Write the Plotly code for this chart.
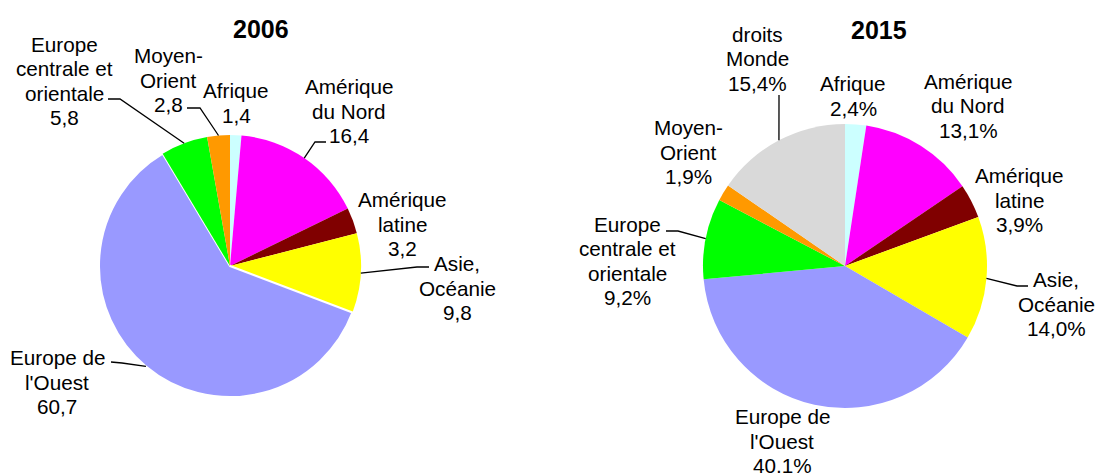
import math
import plotly.graph_objects as go

W, H = 1097, 473

# ---------------- data ----------------
regions_2006 = ["Afrique", "Amérique du Nord", "Amérique latine", "Asie, Océanie",
                "Europe de l'Ouest", "Europe centrale et orientale", "Moyen-Orient"]
values_2006 = [1.4, 16.4, 3.2, 9.8, 60.7, 5.8, 2.8]

regions_2015 = ["Afrique", "Amérique du Nord", "Amérique latine", "Asie, Océanie",
                "Europe de l'Ouest", "Europe centrale et orientale", "Moyen-Orient",
                "droits Monde"]
values_2015 = [2.4, 13.1, 3.9, 14.0, 40.1, 9.2, 1.9, 15.4]

titles = ["2006", "2015"]

# display names (line-broken)
display_names = {
    "Afrique": ["Afrique"],
    "Amérique du Nord": ["Amérique", "du Nord"],
    "Amérique latine": ["Amérique", "latine"],
    "Asie, Océanie": ["Asie,", "Océanie"],
    "Europe de l'Ouest": ["Europe de", "l'Ouest"],
    "Europe centrale et orientale": ["Europe", "centrale et", "orientale"],
    "Moyen-Orient": ["Moyen-", "Orient"],
    "droits Monde": ["droits", "Monde"],
}

colors = {
    "Afrique": "#CCFFFF",
    "Amérique du Nord": "#FF00FF",
    "Amérique latine": "#800000",
    "Asie, Océanie": "#FFFF00",
    "Europe de l'Ouest": "#9999FF",
    "Europe centrale et orientale": "#00FF00",
    "Moyen-Orient": "#FF9900",
    "droits Monde": "#D9D9D9",
}

# ---------------- layout (pixels) ----------------
pies = [
    dict(names=regions_2006, values=values_2006, cx=230, cy=266, r=131, suffix="",
         title_pos=(261, 29),
         label_pos={
             "Europe centrale et orientale": (64, 81),
             "Moyen-Orient": (168, 80),
             "Afrique": (236, 103),
             "Amérique du Nord": (349, 111),
             "Amérique latine": (402, 224),
             "Asie, Océanie": (457, 288),
             "Europe de l'Ouest": (57, 382),
         },
         leaders={  # start point, elbow point; end computed from slice
             "Europe centrale et orientale": [(108, 99), (120, 99)],
             "Moyen-Orient": [(187, 108), (200, 108)],
             "Amérique du Nord": [(326, 142), (315, 142)],
             "Asie, Océanie": [(429, 267), (417, 267)],
             "Europe de l'Ouest": [(111, 362), (122, 363)],
         },
         border={"Europe de l'Ouest": 2}),
    dict(names=regions_2015, values=values_2015, cx=845, cy=266, r=142, suffix="%",
         title_pos=(879, 30),
         label_pos={
             "droits Monde": (757, 59),
             "Afrique": (853, 96),
             "Amérique du Nord": (968, 106),
             "Moyen-Orient": (688, 152),
             "Amérique latine": (1019, 200),
             "Europe centrale et orientale": (627, 261),
             "Asie, Océanie": (1056, 304),
             "Europe de l'Ouest": (782, 441),
         },
         leaders={
             "droits Monde": [(779, 95), (779, 100)],
             "Europe centrale et orientale": [(666, 231), (678, 231)],
             "Asie, Océanie": [(1028, 286), (1017, 286)],
         },
         border={}),
]

FONT = "Liberation Sans, Arial, sans-serif"
LABEL_SIZE = 20.7
LINE_H = 24.2


def px(x):
    return x / W


def py(y):
    return 1 - y / H


def fmt(v, suffix):
    return f"{v:.1f}".replace(".", ",") + suffix


fig = go.Figure()
annotations = []
shapes = []

for p, title in zip(pies, titles):
    names, vals = p["names"], p["values"]
    cx, cy, r = p["cx"], p["cy"], p["r"]
    fig.add_trace(go.Pie(
        labels=names, values=vals, sort=False, direction="clockwise", rotation=0,
        marker=dict(colors=[colors[n] for n in names],
                    line=dict(color="white",
                              width=[p["border"].get(n, 0) for n in names])),
        textinfo="none", hoverinfo="skip", showlegend=False,
        domain=dict(x=[px(cx - r), px(cx + r)], y=[py(cy + r), py(cy - r)]),
    ))
    # title
    annotations.append(dict(
        text=f"<b>{title}</b>", x=px(p["title_pos"][0]), y=py(p["title_pos"][1]),
        xref="paper", yref="paper", xanchor="center", yanchor="middle",
        showarrow=False, font=dict(family=FONT, size=25, color="black")))
    total = sum(vals)
    cum = 0.0
    for n, v in zip(names, vals):
        mid = 2 * math.pi * (cum + v / 2) / total
        cum += v
        ax_, ay_ = cx + r * math.sin(mid), cy - r * math.cos(mid)
        lx, ly = p["label_pos"][n]
        lines = display_names[n] + [fmt(v, p["suffix"])]
        k = len(lines)
        for i, line in enumerate(lines):
            yy = ly + (i - (k - 1) / 2) * LINE_H
            annotations.append(dict(
                text=line, x=px(lx), y=py(yy), xref="paper", yref="paper",
                xanchor="center", yanchor="middle", align="center", showarrow=False,
                font=dict(family=FONT, size=LABEL_SIZE, color="black")))
        if n in p["leaders"]:
            (sx, sy), (ex, ey) = p["leaders"][n]
            path = (f"M {px(sx)} {py(sy)} L {px(ex)} {py(ey)} "
                    f"L {px(ax_)} {py(ay_)}")
            shapes.append(dict(type="path", xref="paper", yref="paper", path=path,
                               line=dict(color="black", width=1.3)))

fig.update_layout(
    width=W, height=H, margin=dict(l=0, r=0, t=0, b=0),
    paper_bgcolor="white", plot_bgcolor="white",
    annotations=annotations, shapes=shapes, hovermode=False,
)

fig.write_html("out.html",
               config={"displayModeBar": False},
               post_script="document.body.style.margin='0';"
                           "document.body.style.overflow='hidden';")
